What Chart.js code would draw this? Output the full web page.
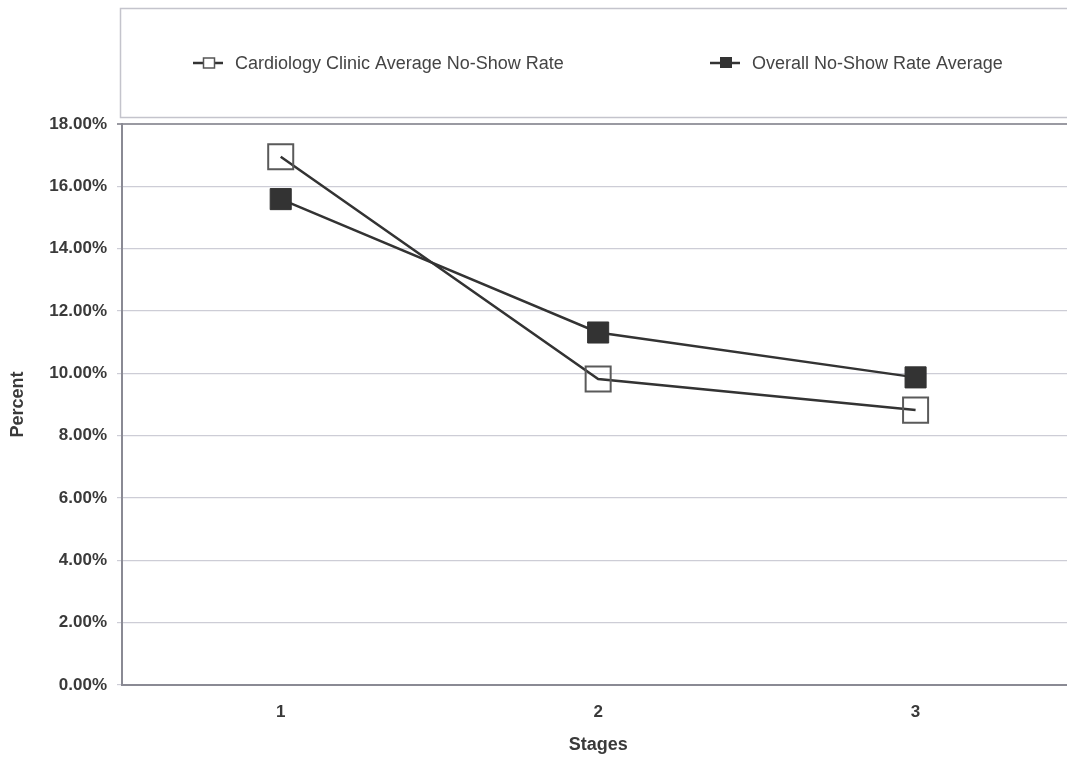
<!DOCTYPE html>
<html>
<head>
  <title>No-Show Rate by Stage</title>
  <script src="https://cdn.jsdelivr.net/npm/chart.js"></script>
  <style>
    html, body { margin: 0; padding: 0; background: #fff; overflow: hidden; }
    #wrap { width: 1067px; height: 757px; overflow: hidden; }
  </style>
</head>
<body>
  <div id="wrap">
    <canvas id="noShowChart" width="1094" height="757"></canvas>
  </div>

  <script>
    const stages = ['1', '2', '3'];
    const cardiologyRate = [16.95, 9.82, 8.82];
    const overallRate = [15.59, 11.31, 9.87];
    const yTicks = { min: 0, max: 18, step: 2 };

    const legendItems = [
      { label: 'Cardiology Clinic Average No-Show Rate', filled: false, x: 193 },
      { label: 'Overall No-Show Rate Average', filled: true, x: 710 }
    ];

    // legend drawn inside a framed box above the plot, like the original
    const boxLegend = {
      id: 'boxLegend',
      afterDraw(chart) {
        const c = chart.ctx;
        c.save();
        c.strokeStyle = '#c4c4cc';
        c.lineWidth = 1.5;
        c.strokeRect(120.5, 8.5, 1100, 109);

        const y = 63;
        c.font = '18px "Liberation Sans", Arial, sans-serif';
        c.textBaseline = 'middle';
        legendItems.forEach(item => {
          c.strokeStyle = '#333';
          c.lineWidth = 2.5;
          c.beginPath();
          c.moveTo(item.x, y);
          c.lineTo(item.x + 30, y);
          c.stroke();
          if (item.filled) {
            c.fillStyle = '#333';
            c.fillRect(item.x + 10, y - 6, 12, 11);
          } else {
            c.fillStyle = '#fff';
            c.fillRect(item.x + 10, y - 5, 12, 10);
            c.strokeStyle = '#555';
            c.lineWidth = 1.5;
            c.strokeRect(item.x + 10.5, y - 5, 11, 10);
          }
          c.fillStyle = '#444';
          c.fillText(item.label, item.x + 42, y + 1);
        });
        c.restore();
      }
    };

    const ctx = document.getElementById('noShowChart').getContext('2d');
    new Chart(ctx, {
      type: 'line',
      data: {
        labels: stages,
        datasets: [
          {
            label: legendItems[0].label,
            data: cardiologyRate,
            borderColor: '#333',
            borderWidth: 2.5,
            pointStyle: 'rect',
            pointRadius: 17.7,
            pointBorderWidth: 2,
            pointBorderColor: '#5a5a5a',
            pointBackgroundColor: 'rgba(0,0,0,0)',
            tension: 0
          },
          {
            label: legendItems[1].label,
            data: overallRate,
            borderColor: '#333',
            borderWidth: 2.5,
            pointStyle: 'rect',
            pointRadius: 14.9,
            pointBorderWidth: 1,
            pointBorderColor: '#333',
            pointBackgroundColor: '#333',
            tension: 0
          }
        ]
      },
      options: {
        responsive: false,
        animation: false,
        layout: { padding: { top: 124, left: 0, right: 0, bottom: 0 } },
        plugins: {
          legend: { display: false },
          tooltip: { enabled: false }
        },
        scales: {
          x: {
            offset: true,
            grid: { display: false, drawTicks: false },
            border: { display: true, color: '#8a8a94', width: 2 },
            ticks: {
              padding: 17,
              color: '#3a3a3a',
              font: { family: '"Liberation Sans", Arial, sans-serif', size: 17, weight: 'bold' }
            },
            title: {
              display: true,
              text: 'Stages',
              color: '#3a3a3a',
              padding: { top: 0, bottom: 1 },
              font: { family: '"Liberation Sans", Arial, sans-serif', size: 18, weight: 'bold' }
            },
            afterFit(scale) { scale.height = 72; }
          },
          y: {
            min: yTicks.min,
            max: yTicks.max,
            grid: {
              color: c => (c.tick && c.tick.value === yTicks.max) ? '#9a9aa2' : '#cdcdd6',
              lineWidth: c => (c.tick && c.tick.value === yTicks.max) ? 2 : 1.2,
              tickLength: 5
            },
            border: { display: true, color: '#8a8a94', width: 2 },
            ticks: {
              stepSize: yTicks.step,
              padding: 10,
              color: '#3a3a3a',
              font: { family: '"Liberation Sans", Arial, sans-serif', size: 17, weight: 'bold' },
              callback: v => v.toFixed(2) + '%'
            },
            title: {
              display: true,
              text: 'Percent',
              color: '#3a3a3a',
              padding: { top: 7, bottom: 0 },
              font: { family: '"Liberation Sans", Arial, sans-serif', size: 18, weight: 'bold' }
            },
            afterFit(scale) { scale.width = 122; }
          }
        }
      },
      plugins: [boxLegend]
    });
  </script>
</body>
</html>
